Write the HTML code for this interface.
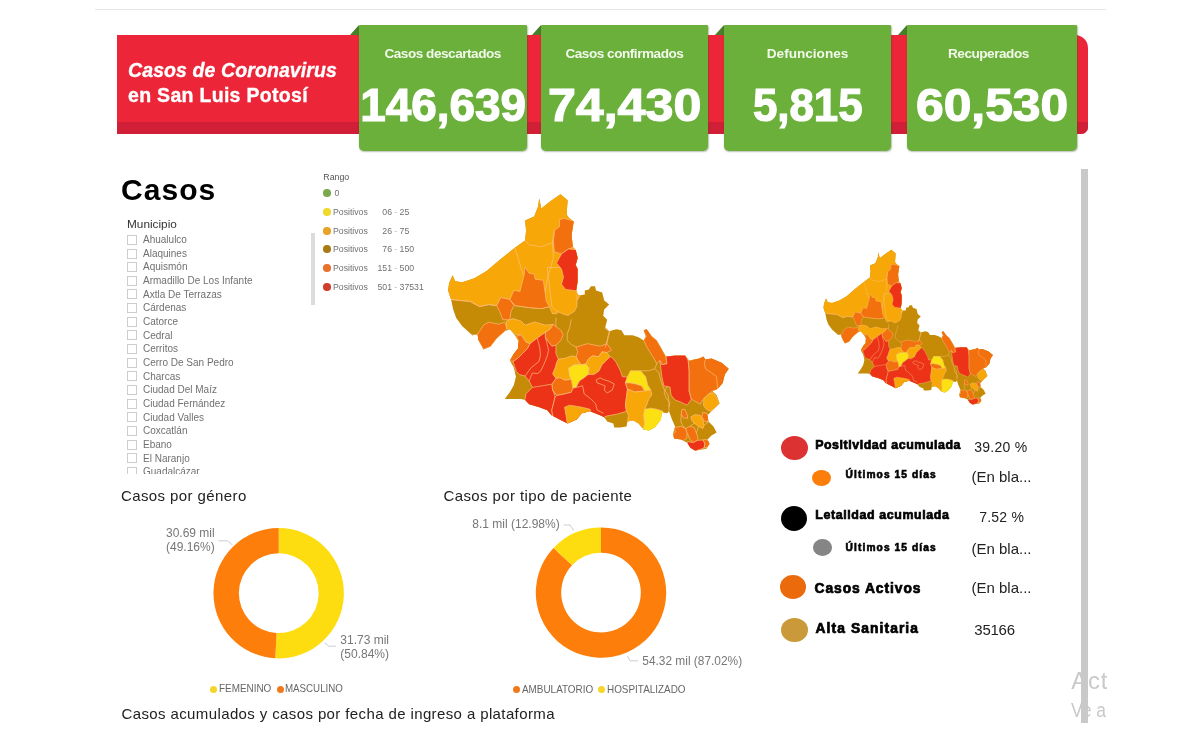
<!DOCTYPE html>
<html lang="es"><head><meta charset="utf-8"><title>Casos de Coronavirus en San Luis Potosí</title>
<style>
*{box-sizing:border-box;margin:0;padding:0}
html,body{width:1201px;height:741px;background:#fff;overflow:hidden}
body{position:relative;font-family:"Liberation Sans",sans-serif;color:#222}
.abs{position:absolute}
#topline{left:95px;top:9px;width:1011px;height:1px;background:#e6e6e6}
#banner{left:117px;top:35px;width:970.5px;height:99.3px;background:#EC2638;border-radius:0 13px 7px 0;overflow:hidden}
#banner i{position:absolute;left:0;right:0;bottom:0;height:12px;background:#D01F36;display:block}
#title{left:128px;top:57.5px;color:#fff;font-weight:bold;font-size:19.5px;line-height:25px;white-space:nowrap;letter-spacing:0.3px;-webkit-text-stroke:0.35px #fff}
#title em{letter-spacing:0.1px}
.box{position:absolute;top:25.2px;height:126.1px;background:#6AB03A;border-radius:1px 1px 5px 5px;color:#fff;text-align:center;font-weight:bold;box-shadow:0.5px 1px 1.5px rgba(60,80,40,.35)}
.fold{position:absolute;top:25.2px;width:0;height:0;border-left:9.5px solid transparent;border-bottom:10px solid #477F2A}
.box .lab{position:absolute;left:0;right:0;top:21.3px;font-size:13.6px;line-height:16px;letter-spacing:-0.48px;color:#F2F8EA;white-space:nowrap}
.box .num{position:absolute;left:-10px;right:-10px;top:55.6px;font-size:45.3px;line-height:50px;letter-spacing:0px;white-space:nowrap;-webkit-text-stroke:1.2px #fff}
#casos{left:121px;top:174.3px;font-size:30px;line-height:32px;font-weight:bold;letter-spacing:1.05px;color:#000}
#muni{left:127px;top:217px;font-size:11.8px;line-height:14px;color:#333}
.mrow{position:absolute;left:127px;height:12px;white-space:nowrap;font-size:10px;line-height:12px;color:#707070}
.cb{position:absolute;left:0;top:1.5px;width:10px;height:10px;border:1px solid #cdcdcd;background:#fff}
.mt{position:absolute;left:16px;top:0.8px}
#listclip{left:100px;top:228px;width:210px;height:246px;overflow:hidden}
#lscroll{left:311.3px;top:232.5px;width:3.6px;height:72.5px;background:#dcdcdc}
.ldot{position:absolute;left:323.2px;width:7.6px;height:7.6px;border-radius:50%}
.lt{position:absolute;font-size:8.7px;line-height:10px;color:#707070;white-space:nowrap}
#rango{left:323.3px;top:171.5px;font-size:8.8px;line-height:10px;color:#555}
.h2{position:absolute;font-size:15px;line-height:18px;letter-spacing:0.4px;color:#222;white-space:nowrap}
.dl{position:absolute;font-size:12px;line-height:13.4px;color:#777;white-space:nowrap}
.lg{position:absolute;font-size:10.3px;line-height:11px;color:#666;white-space:nowrap;transform:scaleX(0.962);transform-origin:0 0}
.lgd{position:absolute;width:7px;height:7px;border-radius:50%}
.circ{position:absolute;border-radius:50%}
.hb{position:absolute;font-weight:bold;color:#000;white-space:nowrap;-webkit-text-stroke:0.7px #000}
.val{position:absolute;color:#222;white-space:nowrap}
#vscroll{left:1081.3px;top:168.5px;width:6.5px;height:554px;background:#c9c9c9}
.wm{position:absolute;color:#c9c9c9;white-space:nowrap;overflow:hidden;width:35.6px;left:1071.2px}
</style></head><body>
<div class="abs" id="topline"></div>
<div class="abs" id="banner"><i></i></div>
<div class="abs" id="title"><em>Casos de Coronavirus</em><br>en San Luis Potosí</div>

<div class="fold" style="left:349.6px"></div>
<div class="box" style="left:358.5px;width:168.3px"><div class="lab">Casos descartados</div><div class="num" style="transform:scaleX(1.013)">146,639</div></div>
<div class="fold" style="left:532.1px"></div>
<div class="box" style="left:540.8px;width:167.2px"><div class="lab">Casos confirmados</div><div class="num" style="transform:scaleX(1.107)">74,430</div></div>
<div class="fold" style="left:715.1px"></div>
<div class="box" style="left:723.8px;width:167.5px"><div class="lab" style="letter-spacing:0px">Defunciones</div><div class="num" style="transform:scaleX(0.968)">5,815</div></div>
<div class="fold" style="left:898.1px"></div>
<div class="box" style="left:906.8px;width:170.2px"><div class="lab" style="left:-7px">Recuperados</div><div class="num" style="transform:scaleX(1.099)">60,530</div></div>

<div class="abs" id="casos">Casos</div>
<div class="abs" id="muni">Municipio</div>
<div class="abs" id="listclip"><div style="position:absolute;left:-100px;top:-228px">
<div class="mrow" style="top:233.3px"><span class="cb"></span><span class="mt">Ahualulco</span></div>
<div class="mrow" style="top:247.0px"><span class="cb"></span><span class="mt">Alaquines</span></div>
<div class="mrow" style="top:260.6px"><span class="cb"></span><span class="mt">Aquismón</span></div>
<div class="mrow" style="top:274.3px"><span class="cb"></span><span class="mt">Armadillo De Los Infante</span></div>
<div class="mrow" style="top:287.9px"><span class="cb"></span><span class="mt">Axtla De Terrazas</span></div>
<div class="mrow" style="top:301.6px"><span class="cb"></span><span class="mt">Cárdenas</span></div>
<div class="mrow" style="top:315.3px"><span class="cb"></span><span class="mt">Catorce</span></div>
<div class="mrow" style="top:328.9px"><span class="cb"></span><span class="mt">Cedral</span></div>
<div class="mrow" style="top:342.6px"><span class="cb"></span><span class="mt">Cerritos</span></div>
<div class="mrow" style="top:356.2px"><span class="cb"></span><span class="mt">Cerro De San Pedro</span></div>
<div class="mrow" style="top:369.9px"><span class="cb"></span><span class="mt">Charcas</span></div>
<div class="mrow" style="top:383.6px"><span class="cb"></span><span class="mt">Ciudad Del Maíz</span></div>
<div class="mrow" style="top:397.2px"><span class="cb"></span><span class="mt">Ciudad Fernández</span></div>
<div class="mrow" style="top:410.9px"><span class="cb"></span><span class="mt">Ciudad Valles</span></div>
<div class="mrow" style="top:424.5px"><span class="cb"></span><span class="mt">Coxcatlán</span></div>
<div class="mrow" style="top:438.2px"><span class="cb"></span><span class="mt">Ebano</span></div>
<div class="mrow" style="top:451.9px"><span class="cb"></span><span class="mt">El Naranjo</span></div>
<div class="mrow" style="top:465.5px"><span class="cb"></span><span class="mt">Guadalcázar</span></div>
</div></div>
<div class="abs" id="lscroll"></div>
<div class="abs" id="rango">Rango</div>
<span class="ldot" style="top:189.0px;background:#7CA84C"></span><span class="lt" style="left:334.5px;top:187.8px">0</span>
<span class="ldot" style="top:208.2px;background:#F0D92C"></span><span class="lt" style="left:333px;top:207.0px">Positivos</span><span class="lt" style="left:362px;width:30px;text-align:right;top:207.0px">06</span><span class="lt" style="left:394.3px;top:207.0px;color:#bbb">-</span><span class="lt" style="left:399.6px;top:207.0px">25</span>
<span class="ldot" style="top:227.1px;background:#E8A224"></span><span class="lt" style="left:333px;top:225.9px">Positivos</span><span class="lt" style="left:362px;width:30px;text-align:right;top:225.9px">26</span><span class="lt" style="left:394.3px;top:225.9px;color:#bbb">-</span><span class="lt" style="left:399.6px;top:225.9px">75</span>
<span class="ldot" style="top:245.2px;background:#A87A12"></span><span class="lt" style="left:333px;top:244.0px">Positivos</span><span class="lt" style="left:362px;width:30px;text-align:right;top:244.0px">76</span><span class="lt" style="left:394.3px;top:244.0px;color:#bbb">-</span><span class="lt" style="left:399.6px;top:244.0px">150</span>
<span class="ldot" style="top:264.1px;background:#E8722C"></span><span class="lt" style="left:333px;top:262.9px">Positivos</span><span class="lt" style="left:362px;width:30px;text-align:right;top:262.9px">151</span><span class="lt" style="left:394.3px;top:262.9px;color:#bbb">-</span><span class="lt" style="left:399.6px;top:262.9px">500</span>
<span class="ldot" style="top:283.2px;background:#D23C2A"></span><span class="lt" style="left:333px;top:282.0px">Positivos</span><span class="lt" style="left:362px;width:30px;text-align:right;top:282.0px">501</span><span class="lt" style="left:394.3px;top:282.0px;color:#bbb">-</span><span class="lt" style="left:399.6px;top:282.0px">37531</span>


<svg class="abs" style="left:0;top:0" width="1201" height="741" viewBox="0 0 1201 741">
<defs><clipPath id="slpclip"><polygon points="448.1,290.4 449.1,283.3 452.6,275.2 455.2,281.3 462.3,282.3 474.4,278.2 486.6,271.1 500.8,259 514.9,247.8 525.1,240.4 526.1,230.6 525.1,220.5 534.2,216.5 538.2,206.3 539.2,198.6 541.3,208.4 550.4,201.3 560.5,194.2 567.6,200.3 566.6,214.4 568.6,217.5 573.7,221.5 571.6,234.7 572.7,246.8 575.7,249.9 577.7,258 575.7,265.1 577.7,269.1 577.7,281.3 576.1,291 578.7,295.4 584.8,294.4 584.8,290.4 588.9,289.4 590.9,286.3 595,286.3 596,290.4 602.2,292.4 604.2,300.5 609.2,304.6 604.2,309.6 603.2,315.7 607.2,319.7 605.2,327.2 609.2,331.3 616.3,329.2 621.4,330.3 624.4,335.3 632.5,335.3 638.6,337.3 643.7,340.4 645.7,336.3 643.7,330.3 646.7,329.2 651.8,336.3 656.8,340.4 660.9,347.5 665.9,356.6 675.1,355.6 685.2,355.6 689.2,360.6 699.4,358.6 703.4,356.6 705.4,359.6 711.5,358.6 721.6,362.7 728.7,368.7 724.7,374.8 722.7,382.9 717.6,389 712.5,391 716.6,395.1 719.6,403.2 713.5,409.2 707.5,415.3 708.5,421.4 713.5,426.5 716.6,432.5 711.5,435.6 707.5,439.6 709.5,443.7 706.5,448.7 700.4,449.7 695.3,450.8 690.3,447.7 687.2,442.7 681.1,439.6 674.1,438.6 673,433.5 675.1,426.5 672,419.4 669,411.3 667,413.3 661.9,412.3 660.9,419.4 654.8,427.5 648.7,430.5 643.7,429.5 638.6,423.4 633.5,420.4 627.5,421.4 626.5,426.5 620.4,427.5 614.3,427.5 613.3,423.4 607.2,421.4 604.2,417.3 600,415.3 589.9,411.3 581.8,413.3 576.7,419.4 567.6,423.4 561.5,420.4 551.4,415.3 547.3,410.3 539.2,407.2 529.1,404.2 525.1,400.1 521,399.1 504.8,399.1 509.9,392 513.9,384.9 515.9,376.8 513.9,367.7 509.9,360.6 513.9,353.5 518,348.5 518,340.4 514.9,335.3 509.9,329.2 504.8,331.3 496.7,338.4 490.6,346.5 483.5,349.5 478.5,340.4 477.5,334.3 472.4,335.3 462.3,326.2 456.2,318.1 453.2,309.6 451.1,299.5"/></clipPath>
<g id="slp">
<polygon points="448.1,290.4 449.1,283.3 452.6,275.2 455.2,281.3 462.3,282.3 474.4,278.2 486.6,271.1 500.8,259 514.9,247.8 525.1,240.4 526.1,230.6 525.1,220.5 534.2,216.5 538.2,206.3 539.2,198.6 541.3,208.4 550.4,201.3 560.5,194.2 567.6,200.3 566.6,214.4 568.6,217.5 573.7,221.5 571.6,234.7 572.7,246.8 575.7,249.9 577.7,258 575.7,265.1 577.7,269.1 577.7,281.3 576.1,291 578.7,295.4 584.8,294.4 584.8,290.4 588.9,289.4 590.9,286.3 595,286.3 596,290.4 602.2,292.4 604.2,300.5 609.2,304.6 604.2,309.6 603.2,315.7 607.2,319.7 605.2,327.2 609.2,331.3 616.3,329.2 621.4,330.3 624.4,335.3 632.5,335.3 638.6,337.3 643.7,340.4 645.7,336.3 643.7,330.3 646.7,329.2 651.8,336.3 656.8,340.4 660.9,347.5 665.9,356.6 675.1,355.6 685.2,355.6 689.2,360.6 699.4,358.6 703.4,356.6 705.4,359.6 711.5,358.6 721.6,362.7 728.7,368.7 724.7,374.8 722.7,382.9 717.6,389 712.5,391 716.6,395.1 719.6,403.2 713.5,409.2 707.5,415.3 708.5,421.4 713.5,426.5 716.6,432.5 711.5,435.6 707.5,439.6 709.5,443.7 706.5,448.7 700.4,449.7 695.3,450.8 690.3,447.7 687.2,442.7 681.1,439.6 674.1,438.6 673,433.5 675.1,426.5 672,419.4 669,411.3 667,413.3 661.9,412.3 660.9,419.4 654.8,427.5 648.7,430.5 643.7,429.5 638.6,423.4 633.5,420.4 627.5,421.4 626.5,426.5 620.4,427.5 614.3,427.5 613.3,423.4 607.2,421.4 604.2,417.3 600,415.3 589.9,411.3 581.8,413.3 576.7,419.4 567.6,423.4 561.5,420.4 551.4,415.3 547.3,410.3 539.2,407.2 529.1,404.2 525.1,400.1 521,399.1 504.8,399.1 509.9,392 513.9,384.9 515.9,376.8 513.9,367.7 509.9,360.6 513.9,353.5 518,348.5 518,340.4 514.9,335.3 509.9,329.2 504.8,331.3 496.7,338.4 490.6,346.5 483.5,349.5 478.5,340.4 477.5,334.3 472.4,335.3 462.3,326.2 456.2,318.1 453.2,309.6 451.1,299.5" fill="#C58A06"/>
<g clip-path="url(#slpclip)" stroke="#FFC07C" stroke-opacity="0.72" stroke-width="0.95" stroke-linejoin="round">
<polygon points="444.1,269.1 444.1,180.0 581.8,180.0 581.8,293.4 574.7,303.5 571.6,311.6 561.5,309.6 556.5,313.7 552.4,313.7 549.4,306.6 541.3,308.6 529.1,307.6 514.9,305.6 509.9,299.5 500.8,297.5 496.7,305.6 488.6,304.6 479.5,306.6 470.4,301.5 460.3,300.5 451.1,299.5 444.1,293.4" fill="#F7A808"/>
<polygon points="547.3,267.6 577.7,267.6 576.9,306.5 574.5,311.3 568.0,315.4 562.3,313.8 555.9,310.5 551.8,306.5" fill="#F7A808"/>
<polygon points="559.5,219.5 564.6,218.5 575.7,221.5 573.7,234.7 574.7,246.8 568.6,248.9 561.5,253.9 554.4,251.9 553.4,240.8 554.4,230.6 559.5,226.6" fill="#F2700D"/>
<polygon points="568.6,248.9 577.7,249.9 579.7,258.0 577.7,265.1 579.7,269.1 579.7,281.3 577.7,291.0 565.6,289.4 561.5,284.3 563.5,277.2 561.5,269.1 556.5,263.0 561.5,253.9" fill="#EC3317"/>
<polygon points="525.1,267.1 529.1,273.2 534.2,274.2 535.2,279.2 543.3,280.3 545.3,293.4 546.3,301.5 549.4,306.6 541.3,308.6 529.1,307.6 514.9,305.6 509.9,299.5 513.9,290.4 520.0,291.4 522.0,283.3 524.1,275.2" fill="#F2700D"/>
<polygon points="500.8,297.5 509.9,299.5 513.9,305.6 510.9,311.6 509.9,319.7 502.8,319.7 499.7,311.6 496.7,305.6" fill="#F2700D"/>
<polygon points="477.5,334.3 483.5,325.2 488.6,322.2 498.7,324.2 504.8,322.2 506.8,328.2 504.8,331.3 496.7,338.4 490.6,346.5 483.5,349.5 478.5,340.4 470.4,335.3" fill="#F2700D"/>
<polygon points="506.5,321.1 513.0,318.6 521.1,321.1 525.1,325.1 534.8,321.9 545.3,325.1 553.4,324.3 550.2,329.1 545.3,332.4 537.2,338.1 530.0,343.7 525.9,342.1 521.1,334.8 515.4,334.8 511.3,330.8 506.5,328.3" fill="#F7A808"/>
<polygon points="553.4,324.3 555.9,326.7 560.7,330.0 563.2,334.8 560.7,340.5 555.9,345.3 551.8,346.2 548.6,342.1 545.3,337.2 545.3,332.4 550.2,329.1" fill="#F2700D"/>
<polygon points="576.1,347.0 587.4,343.7 600.4,346.2 606.9,343.7 611.7,350.2 606.9,352.6 602.0,351.8 598.8,356.7 592.3,355.9 588.3,359.1 585.8,364.0 581.0,364.8 577.7,359.9 576.1,356.7 577.7,351.8" fill="#F2700D"/>
<polygon points="558.3,359.1 564.8,358.3 571.3,355.9 576.1,356.7 577.7,359.9 581.0,364.8 574.5,364.8 568.8,368.0 569.6,376.1 571.3,379.4 564.8,380.2 559.9,377.7 555.9,378.5 552.6,373.7 555.1,368.0 556.7,362.3" fill="#F7A808"/>
<polygon points="568.8,368.0 574.5,364.8 581.0,364.8 585.8,364.0 589.1,368.0 588.3,374.5 584.2,377.7 579.4,381.0 576.1,387.4 572.9,388.3 571.3,379.4 569.6,376.1" fill="#FCE112"/>
<polygon points="585.8,364.0 588.3,359.1 592.3,355.9 598.8,356.7 602.0,351.8 606.9,352.6 610.1,356.7 605.3,361.5 602.0,364.8 598.8,371.3 593.9,374.5 588.3,374.5 589.1,368.0" fill="#F7A808"/>
<polygon points="555.9,378.5 559.9,377.7 564.8,380.2 571.3,379.4 572.9,388.3 571.3,392.3 564.8,393.9 556.7,395.5 552.6,390.7 551.8,384.2" fill="#F2700D"/>
<polygon points="521.1,334.8 525.9,342.1 530.0,343.7 527.5,348.6 522.7,353.4 517.8,358.3 513.0,361.5 506.5,359.9 506.5,351.8 513.8,348.6 517.8,343.7 518.6,340.5 516.2,336.4" fill="#F2700D"/>
<polygon points="530.0,343.7 537.2,338.1 545.3,332.4 545.3,337.2 548.6,342.1 551.8,346.2 555.9,345.3 555.9,353.4 558.3,359.1 556.7,362.3 555.1,368.0 552.6,373.7 555.9,378.5 551.8,384.2 552.6,390.7 556.7,395.5 555.1,397.2 551.8,410.1 553.4,423.1 516.2,423.1 525.1,398.8 525.9,393.9 532.4,387.4 529.1,381.0 525.1,376.1 519.4,374.5 516.2,371.3 514.6,366.4 513.0,361.5 517.8,358.3 522.7,353.4 527.5,348.6" fill="#EC3317"/>
<polygon points="576.1,387.4 579.4,381 584.2,377.7 588.3,374.5 593.9,374.5 598.8,371.3 602,364.8 605.3,361.5 610.1,356.7 612.3,357.6 616.3,362.7 620.4,370.8 622.4,376.8 627.5,376.8 625.4,382.9 627.5,389 626.5,397.1 625.4,405.2 626.5,411.3 616.3,414.3 605.2,416.3 600,432 553,432 553.4,420 551.8,410.1 555.1,397.2 556.7,395.5 564.8,393.9 571.3,392.3 572.9,388.3" fill="#EC3317"/>
<polygon points="564.6,407.2 569.6,405.2 581.8,407.2 589.9,409.2 590.9,411.3 581.8,414.3 577.7,420.4 567.6,425.4 566.0,415.3" fill="#F7A808"/>
<polygon points="630.5,370.8 640.6,370.8 645.7,376.8 647.7,384.9 650.8,390.0 644.7,391.0 641.6,385.9 635.6,383.9 629.5,382.9 625.4,382.9 627.5,376.8" fill="#FCE112"/>
<polygon points="625.4,382.9 629.5,382.9 635.6,383.9 641.6,385.9 644.7,391.0 634.6,392.0 627.5,389.0" fill="#F2700D"/>
<polygon points="627.5,389.0 634.6,392.0 644.7,391.0 650.8,390.0 651.8,395.1 648.7,399.1 646.7,405.2 644.7,409.2 643.7,415.3 644.7,423.4 643.7,431.5 638.6,424.4 633.5,421.0 627.5,421.4 628.5,415.3 626.5,411.3 625.4,405.2 626.5,397.1" fill="#F7A808"/>
<polygon points="644.7,409.2 650.8,408.2 656.8,409.2 662.9,411.3 662.9,419.4 655.8,428.5 648.7,431.5 643.1,430.5 644.7,423.4 643.7,415.3" fill="#FCE112"/>
<polygon points="643.1,330.3 646.7,328.2 651.8,336.3 656.8,340.4 660.9,347.5 665.9,356.6 667.0,363.7 661.9,364.7 659.9,360.6 656.8,363.7 652.8,356.6 647.7,348.5 643.7,340.4 646.3,336.3" fill="#F2700D"/>
<polygon points="665.9,356.2 675.1,355.0 685.2,355.0 688.2,360.6 689.2,370.8 689.2,380.9 689.2,391.0 691.3,399.1 687.2,405.2 681.1,402.2 675.1,400.1 671.0,395.1 670.0,387.0 663.9,385.9 661.9,376.8 660.9,368.7 659.9,360.6 661.9,364.7 667.0,363.7" fill="#EC3317"/>
<polygon points="688.2,360.6 689.2,360.6 699.4,357.6 703.4,355.6 705.4,358.6 711.5,357.6 721.6,361.6 729.7,368.7 725.7,374.8 723.7,382.9 718.6,389.4 712.5,391.0 707.5,395.1 702.4,400.1 700.4,404.2 691.3,399.1 689.2,391.0 689.2,370.8" fill="#F2700D"/>
<polygon points="704.0,398.3 708.8,394.0 713.7,392.4 716.4,397.3 719.6,403.2 715.3,408.3 710.4,411.3 706.1,409.1 703.4,405.4" fill="#F7A808"/>
<polygon points="691.0,416.7 695.3,414.5 700.7,415.6 702.9,419.9 704.0,425.3 702.9,428.6 698.6,426.4 694.2,423.2 691.5,419.9" fill="#F7A808"/>
<polygon points="702.9,412.4 707.2,413.5 709.1,417.8 707.7,421.9 704.0,421.0 701.8,416.7" fill="#F2700D"/>
<polygon points="681.8,409.7 684.5,409.1 687.2,414.5 687.8,418.3 683.5,417.8 681.3,414.5" fill="#F2700D"/>
<polygon points="674.3,427.5 681.3,426.4 685.6,428.6 687.2,432.9 686.7,438.3 682.4,441.0 678.1,442.0 672.7,439.1 671.6,436.1 675.4,431.8" fill="#F2700D"/>
<polygon points="685.6,428.6 689.9,426.4 694.2,427.5 696.4,432.9 698.0,438.3 697.5,440.4 693.2,442.6 689.9,439.4 687.2,432.9" fill="#F2700D"/>
<polygon points="687.8,441.5 693.2,442.6 697.5,440.4 702.9,439.9 705.0,443.7 704.0,448.0 699.6,449.6 694.2,451.2 689.9,448.2 686.7,444.7" fill="#EC3317"/>
<polygon points="702.9,439.9 706.1,439.4 709.9,441.5 709.4,444.7 707.4,447.4 704.0,448.0 705.0,443.7" fill="#F2700D"/>
<polyline points="514.9,247.8 519.0,261.0 522.0,271.1 524.1,275.2" fill="none"/>
<polyline points="525.1,240.4 529.1,244.8 541.3,246.8 552.4,242.8 554.4,230.6" fill="none"/>
<polyline points="552.4,242.8 553.4,257.0 550.4,269.1 547.3,277.2 545.3,293.4" fill="none"/>
<polyline points="451.1,299.5 460.3,300.5 470.4,301.5 479.5,306.6 488.6,304.6 496.7,305.6" fill="none"/>
<polyline points="571.3,319.4 569.6,327.5 567.2,334.0 567.2,340.5 571.3,344.5 576.1,347.0" fill="none"/>
<polyline points="555.9,317.8 555.9,326.7" fill="none"/>
<polyline points="606.9,343.7 608.5,335.6 610.1,331.6 604.5,328.3" fill="none"/>
<polyline points="609.2,331.3 607.2,340.4 605.2,347.5" fill="none"/>
<polyline points="640.6,370.8 648.7,370.8 654.8,368.7 656.8,363.7" fill="none"/>
<polyline points="654.8,368.7 658.9,372.8 660.9,380.9 663.9,389.0 668.0,395.1 669.0,403.2 669.0,411.3" fill="none"/>
<polyline points="705.4,359.6 704.4,362.7 705.4,368.7 711.5,372.8 716.6,376.8 717.6,389.0" fill="none"/>
<polyline points="545.3,337.2 547.0,343.7 548.6,350.2 547.0,356.7 543.7,364.8 540.5,371.3 537.2,373.7 532.4,372.9 529.1,381.0" fill="none"/>
<polyline points="537.2,338.1 539.7,347.0 540.5,355.1 538.9,361.5 534.8,364.8 530.8,368.0 525.1,376.1" fill="none"/>
<polyline points="532.4,387.4 542.1,385.8 551.8,384.2" fill="none"/>
<polyline points="555.1,397.2 553.4,390.7" fill="none"/>
<polyline points="576.1,387.4 582.6,385.8 584.2,393.9 590.7,398.8 595.5,403.6 597.2,410.1 603.6,413.4" fill="none"/>
<polyline points="596.1,379.9 600.1,377.8 604.2,379.9 608.2,380.9 614.3,383.9 612.3,390.0 607.2,393.0 604.2,390.0 605.2,385.9 600.1,383.9 597.1,382.9 596.1,379.9" fill="none"/>
<polyline points="667.3,386.5 664.0,391.9 666.2,398.3 670.0,402.7 668.9,407.0" fill="none"/>
<polyline points="681.3,414.5 680.8,421.0 682.4,425.3 685.6,428.6" fill="none"/>
<polyline points="694.2,423.2 689.9,426.4" fill="none"/>
<polyline points="704.0,425.3 708.3,422.1 707.2,421.5" fill="none"/>
<polyline points="698.6,426.4 696.4,432.9" fill="none"/>
</g></g></defs>
<use href="#slp"/>
<use href="#slp" transform="translate(552.8,132.4) scale(0.604)"/>
<path d="M278.70,528.00 A65.2,65.2 0 1 1 275.26,658.31 L276.60,633.04 A39.9,39.9 0 1 0 278.70,553.30 Z" fill="#FDDC10"/><path d="M275.26,658.31 A65.2,65.2 0 0 1 278.70,528.00 L278.70,553.30 A39.9,39.9 0 0 0 276.60,633.04 Z" fill="#FD7E0A"/>
<path d="M601.00,527.40 A65.2,65.2 0 1 1 553.53,547.91 L572.02,565.32 A39.8,39.8 0 1 0 601.00,552.80 Z" fill="#FD7E0A"/><path d="M553.53,547.91 A65.2,65.2 0 0 1 601.00,527.40 L601.00,552.80 A39.8,39.8 0 0 0 572.02,565.32 Z" fill="#FDDC10"/>
<g fill="none" stroke="#c9cdd2" stroke-width="1">
<polyline points="218.5,540.8 227.5,540.8 232.5,545"/>
<polyline points="325,643 328.8,646.2 336,646.2"/>
<polyline points="563.5,525 570,525 573.8,530.5"/>
<polyline points="627.5,656 630,660.8 638,660.8"/>
</g>
</svg>

<div class="h2" style="left:121px;top:487px">Casos por género</div>
<div class="h2" style="left:443.5px;top:487px">Casos por tipo de paciente</div>
<div class="h2" style="left:121.5px;top:704.8px;font-size:15px;letter-spacing:0.385px">Casos acumulados y casos por fecha de ingreso a plataforma</div>

<div class="dl" style="left:166px;top:527.1px">30.69 mil<br>(49.16%)</div>
<div class="dl" style="left:340.3px;top:633.3px;line-height:14.1px">31.73 mil<br>(50.84%)</div>
<div class="dl" style="left:472.3px;top:518px">8.1 mil (12.98%)</div>
<div class="dl" style="left:642.3px;top:654.5px;font-size:11.9px">54.32 mil (87.02%)</div>

<span class="lgd" style="left:210.3px;top:686px;background:#F6D52A"></span><span class="lg" style="left:219.3px;top:683px">FEMENINO</span>
<span class="lgd" style="left:276.5px;top:686px;background:#F07A1A"></span><span class="lg" style="left:285.3px;top:683px;transform:scaleX(0.945)">MASCULINO</span>
<span class="lgd" style="left:512.8px;top:686px;background:#F07A1A"></span><span class="lg" style="left:522.3px;top:683.6px">AMBULATORIO</span>
<span class="lgd" style="left:597.8px;top:686px;background:#F6D52A"></span><span class="lg" style="left:607px;top:683.6px">HOSPITALIZADO</span>

<div class="circ" style="left:780.8px;top:436.2px;width:27px;height:24.2px;background:#DC3232"></div>
<div class="hb" style="left:815.2px;top:438.2px;font-size:12.4px;line-height:15px;letter-spacing:0.55px">Positividad acumulada</div>
<div class="val" style="left:974.3px;top:439.3px;font-size:14px;line-height:16px;letter-spacing:0.25px">39.20 %</div>

<div class="circ" style="left:811.5px;top:469.5px;width:19.5px;height:16.2px;background:#FB7D0A"></div>
<div class="hb" style="left:845.6px;top:468.3px;font-size:10.2px;line-height:13px;letter-spacing:1.1px;-webkit-text-stroke-width:0.6px">Últimos 15 días</div>
<div class="val" style="left:971.5px;top:467.6px;font-size:15px;line-height:18px">(En bla...</div>

<div class="circ" style="left:780.7px;top:505.5px;width:26.2px;height:25.2px;background:#000"></div>
<div class="hb" style="left:815.2px;top:508.4px;font-size:12.4px;line-height:15px;letter-spacing:0.62px">Letalidad acumulada</div>
<div class="val" style="left:979.3px;top:509.3px;font-size:14px;line-height:16px;letter-spacing:0.2px">7.52 %</div>

<div class="circ" style="left:813.3px;top:539.2px;width:19.2px;height:16.6px;background:#858585"></div>
<div class="hb" style="left:845.6px;top:540.8px;font-size:10.2px;line-height:13px;letter-spacing:1.1px;-webkit-text-stroke-width:0.6px">Últimos 15 días</div>
<div class="val" style="left:971.5px;top:540px;font-size:15px;line-height:18px">(En bla...</div>

<div class="circ" style="left:780.2px;top:574.8px;width:26.2px;height:24px;background:#EB6A0C"></div>
<div class="hb" style="left:814.5px;top:581px;font-size:13.8px;line-height:16px;letter-spacing:0.95px">Casos Activos</div>
<div class="val" style="left:971.5px;top:578.7px;font-size:15px;line-height:18px">(En bla...</div>

<div class="circ" style="left:780.8px;top:618px;width:26.8px;height:24px;background:#C9993A"></div>
<div class="hb" style="left:815.5px;top:620.6px;font-size:13.8px;line-height:16px;letter-spacing:1.1px">Alta Sanitaria</div>
<div class="val" style="left:974.3px;top:620.6px;font-size:15px;line-height:17px;letter-spacing:-0.25px">35166</div>

<div class="abs" id="vscroll"></div>
<div class="wm" style="top:666.9px;font-size:23.8px;line-height:28px;letter-spacing:0.9px">Activar Windows</div>
<div class="wm" style="top:697.6px;font-size:19.4px;line-height:24px"><span style="display:inline-block;transform:scaleX(0.9);transform-origin:0 0">Ve a Configuración</span></div>
</body></html>
